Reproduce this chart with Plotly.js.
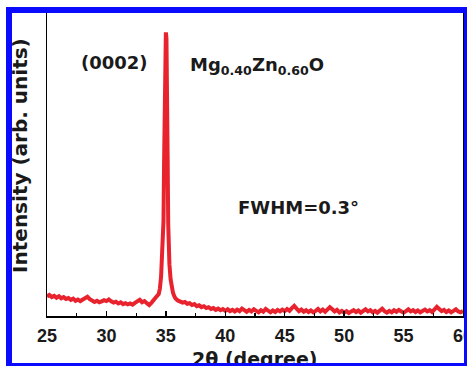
<!DOCTYPE html>
<html>
<head>
<meta charset="utf-8">
<script src="https://cdn.plot.ly/plotly-3.0.1.min.js"></script>
<style>
html,body{margin:0;padding:0;background:#fff;overflow:hidden;}
#wrap{position:relative;width:467px;height:366px;overflow:hidden;}
#chart{position:absolute;left:0;top:0;width:467px;height:366px;}
#frame{position:absolute;left:6px;top:7px;width:464px;height:362px;box-sizing:border-box;border:6px solid #0a0aff;pointer-events:none;}
</style>
</head>
<body>
<div id="wrap"><div id="chart"></div><div id="frame"></div></div>
<script>
// 2θ positions (degrees)
const twoTheta = [
  25.0,25.2,25.4,25.6,25.8,26.0,26.2,26.4,26.6,26.8,
  27.0,27.2,27.4,27.6,27.8,28.0,28.2,28.4,28.6,28.8,
  29.0,29.2,29.4,29.6,29.8,30.0,30.2,30.4,30.6,30.8,
  31.0,31.2,31.4,31.6,31.8,32.0,32.2,32.4,32.6,32.8,
  33.0,33.2,33.4,33.6,33.8,34.0,34.2,
  34.4,34.5,34.6,34.7,34.75,34.8,34.85,34.9,34.95,35.0,
  35.05,35.1,35.15,35.2,35.25,35.3,35.4,35.5,35.6,35.7,
  35.8,36.0,36.2,36.4,36.6,36.8,37.0,37.2,37.4,37.6,
  37.8,38.0,38.2,38.4,38.6,38.8,39.0,39.2,39.4,39.6,
  39.8,40.0,40.2,40.4,40.6,40.8,41.0,41.2,41.4,41.6,
  41.8,42.0,42.2,42.4,42.6,42.8,43.0,43.2,43.4,43.6,
  43.8,44.0,44.2,44.4,44.6,44.8,45.0,45.2,45.4,45.6,
  45.8,46.0,46.2,46.4,46.6,46.8,47.0,47.2,47.4,47.6,
  47.8,48.0,48.2,48.4,48.6,48.8,49.0,49.2,49.4,49.6,
  49.8,50.0,50.2,50.4,50.6,50.8,51.0,51.2,51.4,51.6,
  51.8,52.0,52.2,52.4,52.6,52.8,53.0,53.2,53.4,53.6,
  53.8,54.0,54.2,54.4,54.6,54.8,55.0,55.2,55.4,55.6,
  55.8,56.0,56.2,56.4,56.6,56.8,57.0,57.2,57.4,57.6,
  57.8,58.0,58.2,58.4,58.6,58.8,59.0,59.2,59.4,59.6,
  59.8,60.0
];
// Intensity (arb. units)
const intensity = [
  6.4,6.9,6.2,6.6,6.0,6.5,5.8,6.2,5.6,5.9,
  5.3,5.7,5.0,5.4,4.9,5.3,5.8,6.3,5.5,5.0,
  4.6,5.0,4.5,4.8,5.2,4.9,5.4,4.8,4.4,4.7,
  4.1,4.5,3.9,4.2,3.8,4.1,3.7,4.3,4.7,5.3,
  4.5,4.9,4.2,3.6,4.4,5.6,6.3,
  7.2,9,13,20,25,31,50,78,90,93,
  91,80,52,30,22,17,12,9.2,7.6,6.6,
  5.8,5.1,4.9,4.4,4.6,4.0,4.2,3.6,3.9,3.2,
  3.5,2.9,3.2,2.6,2.9,2.3,2.6,2.0,2.4,1.9,
  2.3,1.7,2.2,1.6,2.0,1.5,2.1,1.6,2.4,1.8,
  1.4,2.0,1.5,2.2,1.6,1.2,1.9,1.4,2.3,1.7,
  1.2,1.8,1.3,2.0,1.5,2.1,1.6,2.3,1.7,2.6,
  3.3,2.4,1.6,2.1,1.4,1.9,1.3,1.8,1.2,1.7,
  2.3,1.5,2.1,1.4,2.2,2.9,2.2,1.5,2.0,1.2,
  1.7,1.1,1.6,1.0,1.5,1.9,1.3,1.8,1.1,1.6,
  2.2,1.5,1.9,1.2,1.7,1.1,1.8,2.4,1.6,1.1,
  1.7,1.2,1.9,1.4,2.0,1.5,1.1,1.6,2.2,1.5,
  1.9,1.3,1.8,1.2,1.7,2.1,1.5,1.9,1.3,2.4,
  3.0,2.3,1.6,2.0,1.3,1.8,1.2,1.7,2.2,1.5,
  1.2,1.6
];
const xTicks = [25,30,35,40,45,50,55,60];
const xTickText = ['25','30','35','40','45','50','55','60'];
const labels = {
  x: '2θ (degree)',
  y: 'Intensity (arb. units)',
  plane: '(0002)',
  sample: 'Mg<sub>0.40</sub>Zn<sub>0.60</sub>O',
  fwhm: 'FWHM=0.3°'
};

const boldSans = {family:'Liberation Sans, Arial, sans-serif', weight:'bold', color:'#1a1a1a'};
const wideBold = {family:'DejaVu Sans, sans-serif', weight:'bold', color:'#1a1a1a'};

const trace = {
  x: twoTheta, y: intensity, type:'scatter', mode:'lines',
  line:{color:'#e8232e', width:4}, hoverinfo:'skip'
};

const layout = {
  width:467, height:366,
  margin:{l:47, r:4, t:11, b:50},
  paper_bgcolor:'#ffffff', plot_bgcolor:'#ffffff',
  showlegend:false,
  xaxis:{
    range:[25,60], tickvals:xTicks, ticktext:xTickText,
    ticks:'inside', ticklen:5, tickwidth:1.5, tickcolor:'#000',
    minor:{dtick:2.5, tick0:25, ticks:'inside', ticklen:3, tickwidth:1.2, tickcolor:'#000'},
    showline:true, linecolor:'#000', linewidth:1.5, mirror:true,
    showgrid:false, zeroline:false,
    tickfont:Object.assign({size:18}, boldSans),
    ticklabelstandoff:3, ticklabeloverflow:'allow'
  },
  yaxis:{
    range:[0,100], showticklabels:false, ticks:'',
    showline:true, linecolor:'#000', linewidth:1.5, mirror:true,
    showgrid:false, zeroline:false
  },
  annotations:[
    {text:labels.x, xref:'paper', yref:'paper', x:0.5, y:-0.14, xanchor:'center', yanchor:'middle',
     showarrow:false, font:Object.assign({size:19}, wideBold)},
    {text:labels.y, xref:'paper', yref:'paper', x:-0.065, y:0.528, xanchor:'center', yanchor:'middle',
     textangle:-90, showarrow:false, font:Object.assign({size:20}, wideBold)},
    {text:labels.plane, xref:'x', yref:'y', x:30.72, y:83, xanchor:'center', yanchor:'middle',
     showarrow:false, font:Object.assign({size:18}, wideBold)},
    {text:labels.sample, xref:'x', yref:'y', x:36.86, y:82, xanchor:'left', yanchor:'middle',
     showarrow:false, font:Object.assign({size:18}, wideBold)},
    {text:labels.fwhm, xref:'x', yref:'y', x:46.2, y:35.7, xanchor:'center', yanchor:'middle',
     showarrow:false, font:Object.assign({size:18}, wideBold)}
  ]
};

Plotly.newPlot('chart', [trace], layout, {displayModeBar:false, staticPlot:true});
</script>
</body>
</html>
